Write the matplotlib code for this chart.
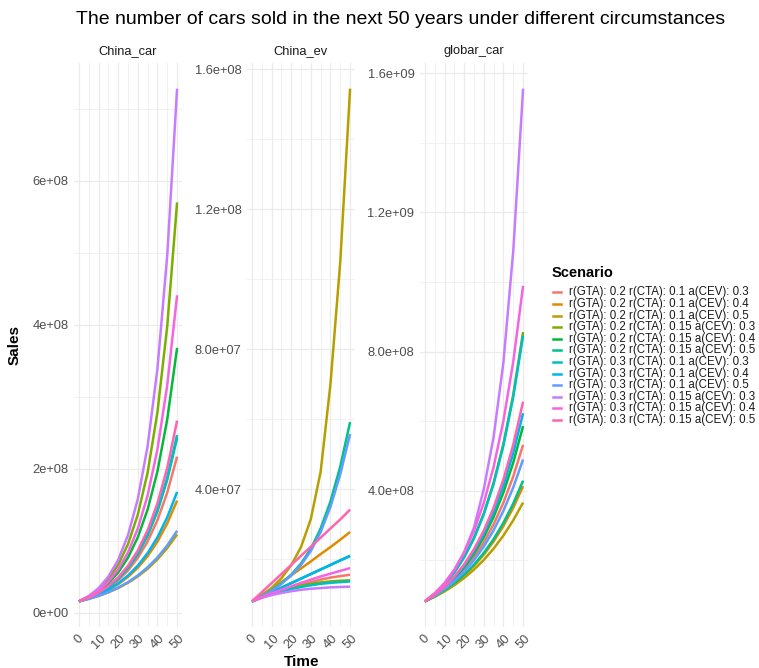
import matplotlib
matplotlib.use('Agg')
import matplotlib.pyplot as plt
from matplotlib.lines import Line2D
from matplotlib.ticker import FixedLocator, FixedFormatter

plt.rcParams['font.family'] = ['Liberation Sans', 'DejaVu Sans']

# ---------------- data (sales values in millions) ----------------
time = [0, 5, 10, 15, 20, 25, 30, 35, 40, 45, 50]

scenarios = [
    "r(GTA): 0.2 r(CTA): 0.1 a(CEV): 0.3",
    "r(GTA): 0.2 r(CTA): 0.1 a(CEV): 0.4",
    "r(GTA): 0.2 r(CTA): 0.1 a(CEV): 0.5",
    "r(GTA): 0.2 r(CTA): 0.15 a(CEV): 0.3",
    "r(GTA): 0.2 r(CTA): 0.15 a(CEV): 0.4",
    "r(GTA): 0.2 r(CTA): 0.15 a(CEV): 0.5",
    "r(GTA): 0.3 r(CTA): 0.1 a(CEV): 0.3",
    "r(GTA): 0.3 r(CTA): 0.1 a(CEV): 0.4",
    "r(GTA): 0.3 r(CTA): 0.1 a(CEV): 0.5",
    "r(GTA): 0.3 r(CTA): 0.15 a(CEV): 0.3",
    "r(GTA): 0.3 r(CTA): 0.15 a(CEV): 0.4",
    "r(GTA): 0.3 r(CTA): 0.15 a(CEV): 0.5",
]

colors = ["#F8766D", "#DE8C00", "#B79F00", "#7CAE00", "#00BA38", "#00C08B",
          "#00BFC4", "#00B4F0", "#619CFF", "#C77CFF", "#F564E3", "#FF64B0"]

panel_names = ["China_car", "China_ev", "globar_car"]

china_car = [
    [16, 20.8, 27.0, 35.0, 45.4, 58.9, 76.5, 99.3, 128.8, 167.2, 217],
    [16, 20.1, 25.2, 31.7, 39.8, 50.0, 62.8, 78.8, 99.0, 124.3, 156],
    [16, 19.4, 23.5, 28.5, 34.5, 41.8, 50.6, 61.3, 74.3, 90.0, 109],
    [16, 22.9, 32.7, 46.7, 66.8, 95.5, 136.5, 195.1, 278.9, 398.7, 570],
    [16, 21.9, 30.0, 41.0, 56.1, 76.8, 105.0, 143.7, 196.6, 269.0, 368],
    [16, 21.0, 27.6, 36.2, 47.5, 62.4, 81.9, 107.5, 141.1, 185.2, 243],
    [16, 21.0, 27.7, 36.4, 47.8, 62.9, 82.7, 108.7, 142.9, 187.9, 247],
    [16, 20.2, 25.6, 32.4, 41.0, 51.9, 65.6, 83.0, 105.0, 132.8, 168],
    [16, 19.5, 23.7, 28.8, 35.1, 42.7, 52.0, 63.3, 77.0, 93.7, 114],
    [16, 23.4, 34.3, 50.3, 73.7, 107.9, 158.1, 231.6, 339.3, 497.0, 728],
    [16, 22.3, 31.1, 43.3, 60.3, 84.0, 117.1, 163.1, 227.2, 316.6, 441],
    [16, 21.2, 28.1, 37.2, 49.3, 65.4, 86.6, 114.8, 152.1, 201.5, 267],
]

china_ev = [
    [8.0, 9.1, 10.1, 11.1, 12.0, 12.8, 13.5, 14.2, 14.8, 15.2, 15.6],
    [8.0, 9.8, 11.6, 13.5, 15.4, 17.4, 19.4, 21.5, 23.5, 25.6, 27.8],
    [8.0, 9.7, 11.8, 14.6, 18.3, 23.5, 31.5, 45.0, 70.0, 105.0, 154.4],
    [8.0, 9.1, 10.1, 11.0, 11.8, 12.5, 13.0, 13.4, 13.7, 13.9, 14.0],
    [8.0, 9.3, 10.6, 11.9, 13.2, 14.5, 15.8, 17.1, 18.4, 19.7, 21.0],
    [8.0, 9.4, 11.1, 13.1, 15.6, 18.8, 23.0, 28.8, 36.5, 46.5, 59.2],
    [8.0, 9.1, 10.0, 10.8, 11.5, 12.1, 12.6, 13.0, 13.3, 13.5, 13.7],
    [8.0, 9.3, 10.6, 11.9, 13.2, 14.5, 15.8, 17.1, 18.4, 19.7, 20.9],
    [8.0, 9.4, 11.0, 13.0, 15.4, 18.4, 22.4, 27.8, 35.0, 44.3, 55.8],
    [8.0, 9.0, 9.8, 10.4, 10.9, 11.3, 11.6, 11.8, 12.0, 12.1, 12.2],
    [8.0, 9.2, 10.3, 11.3, 12.3, 13.3, 14.2, 15.1, 15.9, 16.7, 17.5],
    [8.0, 10.6, 13.2, 15.8, 18.4, 21.0, 23.6, 26.2, 28.8, 31.4, 34.2],
]

globar_car = [
    [82, 98.9, 119.2, 143.7, 173.2, 208.9, 251.8, 303.6, 366.0, 441.2, 532],
    [82, 96.4, 113.3, 133.2, 156.6, 184.1, 216.4, 254.3, 299.0, 351.4, 413],
    [82, 95.2, 110.6, 128.5, 149.2, 173.3, 201.2, 233.7, 271.4, 315.2, 366],
    [82, 103.7, 131.1, 165.7, 209.5, 264.9, 334.9, 423.4, 535.3, 676.8, 856],
    [82, 99.8, 121.5, 147.9, 180.1, 219.2, 266.8, 324.8, 395.4, 481.3, 586],
    [82, 96.8, 114.2, 134.7, 158.9, 187.5, 221.3, 261.1, 308.0, 363.4, 429],
    [82, 103.6, 130.8, 165.2, 208.6, 263.4, 332.7, 420.1, 530.6, 670.1, 846],
    [82, 100.4, 123.0, 150.7, 184.5, 226.0, 276.8, 339.1, 415.3, 508.6, 623],
    [82, 98.1, 117.2, 140.2, 167.6, 200.4, 239.6, 286.5, 342.6, 409.7, 490],
    [82, 104, 133, 172, 224, 294, 405, 555, 770, 1090, 1556],
    [82, 105.2, 134.9, 173.1, 222.0, 284.8, 365.4, 468.7, 601.3, 771.3, 989],
    [82, 101.0, 124.3, 153.0, 188.4, 231.9, 285.5, 351.5, 432.7, 532.7, 656],
]

x_ticks = [0, 10, 20, 30, 40, 50]
x_minor = [5, 15, 25, 35, 45]
y_ticks = [[0, 2e8, 4e8, 6e8], [4e7, 8e7, 1.2e8, 1.6e8], [4e8, 8e8, 1.2e9, 1.6e9]]
y_minor = [[1e8, 3e8, 5e8, 7e8], [2e7, 6e7, 1e8, 1.4e8], [2e8, 6e8, 1e9, 1.4e9]]
y_labels = [["0e+00", "2e+08", "4e+08", "6e+08"],
            ["4.0e+07", "8.0e+07", "1.2e+08", "1.6e+08"],
            ["4.0e+08", "8.0e+08", "1.2e+09", "1.6e+09"]]

# ---------------- figure ----------------
W, H = 759, 668
fig = plt.figure(figsize=(W / 100, H / 100), dpi=100)
fig.patch.set_facecolor('white')

lefts = [74, 247, 420]
pw = 108
ptop, pbot = 63, 627
grid_col = '#EBEBEB'
txt_col = '#4D4D4D'

panels = [china_car, china_ev, globar_car]
for k, data in enumerate(panels):
    ax = fig.add_axes([lefts[k] / W, (H - pbot) / H, pw / W, (pbot - ptop) / H])
    ax.set_facecolor('white')
    for s in ax.spines.values():
        s.set_visible(False)
    for i, series in enumerate(data):
        ax.plot(time, [v * 1e6 for v in series], color=colors[i], lw=1.8,
                solid_capstyle='butt', solid_joinstyle='round', zorder=3)
    ax.margins(x=0.05, y=0.05)
    ax.xaxis.set_major_locator(FixedLocator(x_ticks))
    ax.xaxis.set_minor_locator(FixedLocator(x_minor))
    ax.yaxis.set_major_locator(FixedLocator(y_ticks[k]))
    ax.yaxis.set_minor_locator(FixedLocator(y_minor[k]))
    ax.yaxis.set_major_formatter(FixedFormatter(y_labels[k]))
    ax.set_xticklabels([str(t) for t in x_ticks], rotation=45, ha='center', va='top')
    ax.grid(True, which='major', color=grid_col, lw=0.9, zorder=0)
    ax.grid(True, which='minor', color=grid_col, lw=0.5, zorder=0)
    ax.set_axisbelow(True)
    ax.tick_params(which='both', length=0)
    ax.tick_params(axis='x', pad=4, labelsize=9.3, labelcolor=txt_col)
    ax.tick_params(axis='y', pad=4, labelsize=9.3, labelcolor=txt_col)
    fig.text((lefts[k] + pw / 2) / W, 1 - 51 / H, panel_names[k], ha='center',
             va='center', fontsize=9.3, color='#1A1A1A')

# titles
fig.text(76 / W, 1 - 19 / H,
         "The number of cars sold in the next 50 years under different circumstances",
         ha='left', va='center', fontsize=14, color='black')
fig.text(15 / W, 1 - 345 / H, "Sales", rotation=90, ha='center', va='center',
         fontsize=11, fontweight='bold', color='black')
fig.text(302 / W, 1 - 662 / H, "Time", ha='center', va='center',
         fontsize=11, fontweight='bold', color='black')

# legend
fig.text(552 / W, 1 - 273 / H, "Scenario", ha='left', va='center',
         fontsize=10.5, fontweight='bold', color='black')
for i, (lab, col) in enumerate(zip(scenarios, colors)):
    yy = 1 - (292.3 + i * 11.6) / H
    fig.add_artist(Line2D([553 / W, 561 / W], [yy, yy], color=col, lw=1.8,
                          transform=fig.transFigure))
    fig.text(569 / W, yy, lab, ha='left', va='center', fontsize=8.3, color='#1A1A1A')

fig.savefig('out.png', dpi=100, facecolor='white')
